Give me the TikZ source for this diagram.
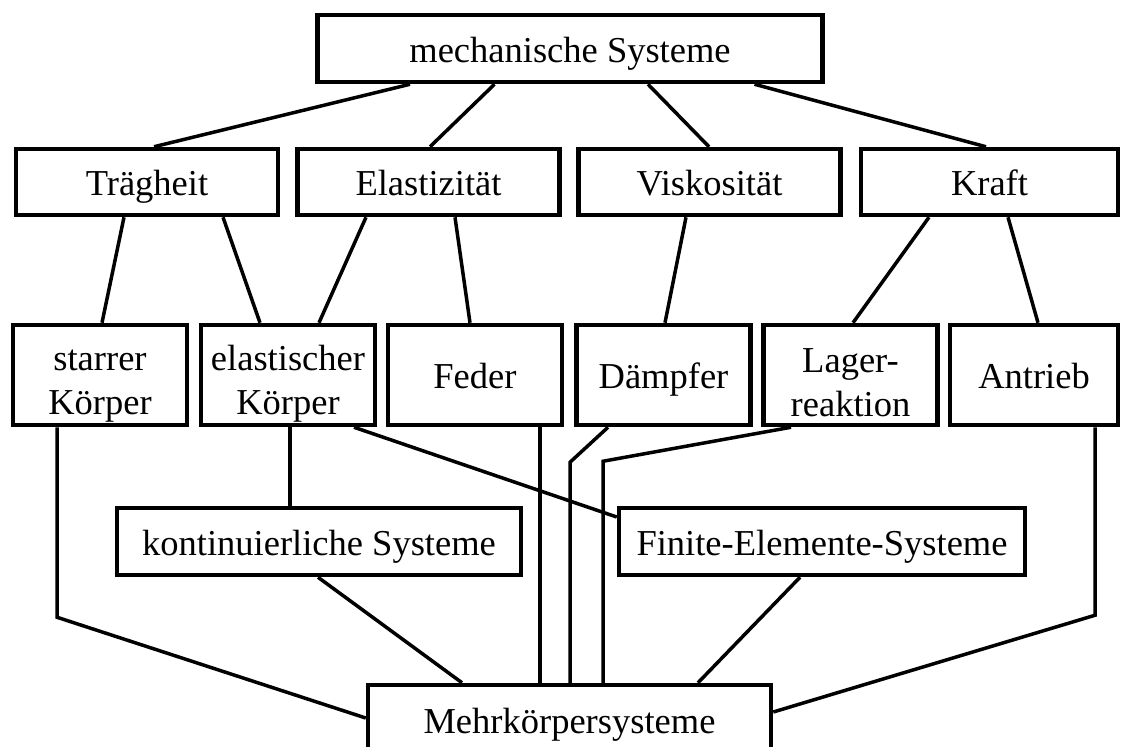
\documentclass[tikz,border=0pt]{standalone}
\usepackage{fontspec}
\setmainfont{Liberation Serif}
\usepackage{tikz}
\usetikzlibrary{positioning}
\tikzstyle{box} = [draw, rectangle, line width=4.5pt, align=center, inner sep=0pt, font=\fontsize{36.5}{44}\selectfont]
\tikzstyle{one} = [text height=30pt, text depth=3pt]
\tikzstyle{cat} = [box, one, minimum width=262pt, minimum height=66pt]
\tikzstyle{elem} = [box, minimum width=174pt, minimum height=100pt]
\tikzstyle{sys} = [box, one, minimum width=404pt, minimum height=67pt]
\tikzstyle{link} = [line width=3.5pt]
\newcommand{\zweizeilig}[2]{\rule{0pt}{42pt}#1\\#2\rule[-3pt]{0pt}{3pt}}

\begin{document}
\begin{tikzpicture}[x=1pt, y=-1pt]
        \clip (0,0) rectangle (1122,747);
        % Node positions
        \node[box, one, minimum width=505pt, minimum height=67pt] (MS) at (570,48.5) {mechanische Systeme};
        \node[cat] (TR) at (147,182) {Trägheit};
        \node[cat] (EL) at (428.5,182) {Elastizität};
        \node[cat] (VI) at (709.5,182) {Viskosität};
        \node[cat, minimum width=257pt] (KR) at (989.5,182) {Kraft};
        \node[elem] (SK) at (100,375) {\zweizeilig{starrer}{Körper}};
        \node[elem] (EK) at (288,375) {\zweizeilig{elastischer}{Körper}};
        \node[elem, one] (FE) at (475,375) {Feder};
        \node[elem, one] (DA) at (663.5,375) {Dämpfer};
        \node[elem] (LR) at (850.5,375) {\zweizeilig{Lager-}{reaktion}};
        \node[elem, one, minimum width=168pt] (AN) at (1034,375) {Antrieb};
        \node[sys] (KS) at (319,541.5) {kontinuierliche Systeme};
        \node[sys, minimum width=406pt] (FS) at (822,541.5) {Finite-Elemente-Systeme};
        \node[box, one, minimum width=403pt, minimum height=70pt] (MK) at (569.5,720) {Mehrkörpersysteme};

        % upper links
        \draw[link] ([xshift=-160]MS.south) -- ([xshift=7]TR.north);
        \draw[link] ([xshift=-75.5]MS.south) -- ([xshift=1.5]EL.north);
        \draw[link] ([xshift=78]MS.south) -- ([xshift=-0.5]VI.north);
        \draw[link] ([xshift=184.5]MS.south) -- ([xshift=-3.5]KR.north);

        \draw[link] ([xshift=-23]TR.south) -- ([xshift=2]SK.north);
        \draw[link] ([xshift=76]TR.south) -- ([xshift=-28]EK.north);
        \draw[link] ([xshift=-62.5]EL.south) -- ([xshift=31]EK.north);
        \draw[link] ([xshift=26.5]EL.south) -- ([xshift=-5]FE.north);
        \draw[link] ([xshift=-23.5]VI.south) -- ([xshift=1.5]DA.north);
        \draw[link] ([xshift=-60.5]KR.south) -- ([xshift=2.5]LR.north);
        \draw[link] ([xshift=18.5]KR.south) -- ([xshift=4]AN.north);

        % lower links
        \draw[link] ([xshift=-43]SK.south) -- ++(0,190) -- ([yshift=2]MK.west);
        \draw[link] ([xshift=2]EK.south) -- ([xshift=-29]KS.north);
        \draw[link] ([xshift=66]EK.south) -- ([yshift=24.5]FS.west);
        \draw[link] ([xshift=65]FE.south) -- ([xshift=-29.5]MK.north);
        \draw[link] ([xshift=-55.5]DA.south) -- ++(-38,35) -- ([xshift=0.5]MK.north);
        \draw[link] ([xshift=-59.5]LR.south) -- ++(-188,34) -- ([xshift=33.5]MK.north);
        \draw[link] ([xshift=61]AN.south) -- ++(0,188) -- ([yshift=8]MK.east);
        \draw[link] ([xshift=-1]KS.south) -- ([xshift=-107.5]MK.north);
        \draw[link] ([xshift=-22]FS.south) -- ([xshift=128.5]MK.north);
      \end{tikzpicture}
\end{document}
